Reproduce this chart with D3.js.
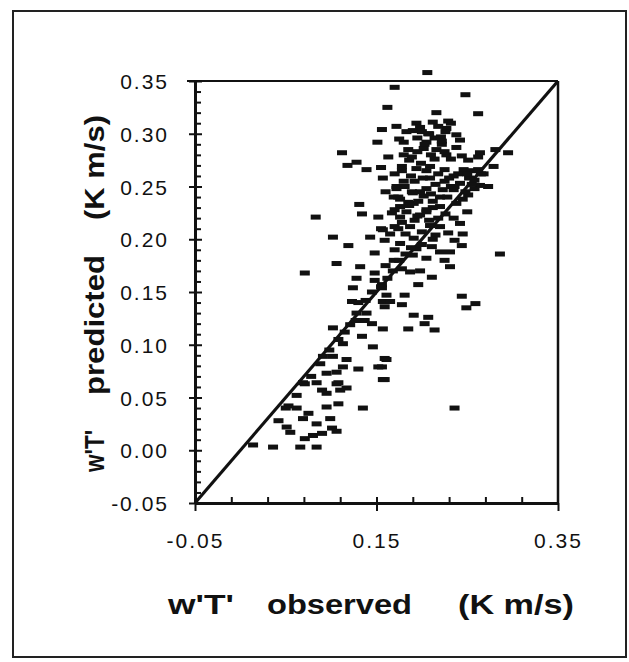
<!DOCTYPE html>
<html>
<head>
<meta charset="UTF-8">
<title>w'T' predicted vs observed</title>
<style>
html, body { margin:0; padding:0; background:#fff; }
text { font-family: "Liberation Sans", Arial, sans-serif; fill:#111; }
.tick-label { font-size:21px; letter-spacing:2px; }
.title { font-size:27px; font-weight:bold; }
</style>
<script src="https://cdnjs.cloudflare.com/ajax/libs/d3/7.8.5/d3.min.js"></script>
</head>
<body>
<script>
// observed / predicted pairs (K m/s)
const observed = [
 0.206,0.170,0.248,0.162,0.216,0.262,0.156,0.172,0.151,0.112,0.118,0.128,0.139,0.155,0.157,
 0.194,0.212,0.229,0.200,0.214,0.227,0.238,0.242,0.180,0.185,0.202,0.216,0.238,0.264,0.281,
 0.295,0.189,0.227,0.251,0.262,0.178,0.194,0.209,0.225,0.246,0.279,0.180,0.209,0.225,0.242,
 0.264,0.172,0.189,0.205,0.235,0.251,0.169,0.202,0.220,0.176,0.191,0.220,0.238,0.176,0.198,
 0.218,0.242,0.170,0.187,0.209,0.131,0.134,0.152,0.083,0.155,
 0.102,0.143,0.157,0.119,0.159,0.148,0.071,0.106,0.132,0.148,0.128,0.124,0.148,0.156,0.123,
 0.157,0.128,0.139,0.137,0.145,0.121,0.102,0.134,0.113,0.146,0.091,0.102,0.117,0.159,0.113,
 0.130,0.152,0.095,0.106,0.071,0.084,0.106,0.117,0.157,
 0.174,0.229,0.236,0.176,0.191,0.244,0.211,0.220,0.231,0.194,0.286,0.169,0.231,0.187,0.211,
 0.196,0.156,0.161,0.181,0.244,0.259,0.249,0.165,0.178,0.159,0.191,0.207,0.203,0.214,0.185,
 0.157,0.161,0.156,0.159,
 0.069,0.108,0.090,0.110,0.095,0.053,0.062,0.095,0.108,0.135,0.075,0.069,0.042,0.051,0.084,
 0.099,0.101,0.055,0.090,0.106,0.071,0.080,0.014,0.036,0.066,0.084,0.236,
 0.183,0.195,0.208,0.221,0.186,0.199,0.214,0.232,0.244,0.170,0.188,0.201,0.218,0.235,0.252,
 0.176,0.196,0.212,0.228,0.245,0.258,0.183,0.205,0.226,0.250,0.165,0.182,0.200,0.215,0.170,
 0.190,0.205,0.225,0.160,0.178,0.198,
 0.155,0.162,0.168,0.175,0.182,0.188,0.145,0.138,0.130,0.127,0.115,0.108,0.098,0.088,0.078,
 0.062,0.050,
 0.175,0.190,0.205,0.222,0.232,0.180,0.195,0.210,0.225,0.178,0.192,0.205,0.215,0.232,0.185,
 0.198,0.210,0.223,0.192,0.208,0.220,0.235,0.200,0.212,0.245,0.167,0.172,0.160,0.163,0.255,
 0.268,0.273,0.255,0.265,0.248,
 0.198,0.207,0.218,0.226,0.203,0.222,0.170,0.178,0.186,0.195,0.212,0.174,0.190,0.205,0.181,
 0.230,0.240,0.258,0.236,0.250,0.262
];
const predicted = [
 0.358,0.344,0.337,0.325,0.320,0.319,0.304,0.307,0.292,0.282,0.270,0.273,0.266,0.268,0.258,
 0.310,0.311,0.312,0.302,0.296,0.305,0.299,0.294,0.292,0.285,0.286,0.285,0.287,0.282,0.285,
 0.282,0.278,0.280,0.275,0.278,0.269,0.267,0.269,0.266,0.266,0.269,0.255,0.258,0.255,0.253,
 0.251,0.248,0.245,0.248,0.247,0.242,0.240,0.241,0.240,0.231,0.234,0.231,0.234,0.221,0.223,
 0.220,0.215,0.212,0.212,0.213,0.233,0.224,0.221,0.221,0.210,
 0.202,0.202,0.209,0.194,0.199,0.187,0.168,0.177,0.174,0.168,0.163,0.154,0.161,0.154,0.141,
 0.141,0.130,0.130,0.123,0.120,0.119,0.116,0.108,0.101,0.098,0.089,0.089,0.086,0.087,0.079,
 0.077,0.079,0.073,0.074,0.063,0.064,0.063,0.059,0.067,
 0.210,0.206,0.199,0.196,0.201,0.194,0.193,0.188,0.188,0.191,0.186,0.180,0.174,0.169,0.164,
 0.157,0.157,0.147,0.147,0.146,0.139,0.135,0.141,0.138,0.136,0.128,0.126,0.120,0.114,0.115,
 0.115,0.086,0.079,0.067,
 0.064,0.064,0.057,0.057,0.054,0.042,0.040,0.041,0.044,0.040,0.035,0.030,0.028,0.022,0.025,
 0.030,0.021,0.017,0.016,0.018,0.011,0.014,0.005,0.003,0.003,0.003,0.040,
 0.302,0.296,0.300,0.297,0.275,0.272,0.276,0.276,0.279,0.262,0.260,0.258,0.262,0.260,0.258,
 0.238,0.236,0.236,0.240,0.238,0.248,0.226,0.226,0.224,0.226,0.205,0.205,0.207,0.204,0.190,
 0.185,0.182,0.180,0.175,0.172,0.170,
 0.155,0.163,0.170,0.180,0.186,0.192,0.150,0.142,0.140,0.123,0.112,0.105,0.095,0.082,0.070,
 0.052,0.040,
 0.295,0.303,0.292,0.290,0.310,0.280,0.283,0.280,0.283,0.265,0.255,0.265,0.252,0.250,0.235,
 0.245,0.243,0.247,0.218,0.218,0.212,0.220,0.195,0.200,0.205,0.225,0.250,0.245,0.278,0.265,
 0.262,0.250,0.252,0.262,0.245,
 0.306,0.300,0.307,0.302,0.290,0.293,0.228,0.216,0.232,0.222,0.230,0.240,0.244,0.228,0.250,
 0.258,0.262,0.256,0.250,0.262,0.266
];
const yMajor = [-0.05, 0.00, 0.05, 0.10, 0.15, 0.20, 0.25, 0.30, 0.35];
const yMinor = d3.range(-4, 35).map(i => i / 100).filter(v => Math.round(v * 100) % 5 !== 0);
const xMajor = [-0.05, 0.15, 0.35];
const xMinor = [-0.01, 0.03, 0.07, 0.11, 0.19, 0.23, 0.27, 0.31];

const W = 629, H = 662;
const svg = d3.select('body').append('svg').attr('width', W).attr('height', H);

// outer frame
svg.append('rect').attr('x', 13).attr('y', 11).attr('width', 613).attr('height', 646)
	.attr('fill', 'none').attr('stroke', '#222').attr('stroke-width', 2);

const x = d3.scaleLinear().domain([-0.05, 0.35]).range([195, 558]);
const y = d3.scaleLinear().domain([-0.05, 0.35]).range([503, 81]);

// box top/right
svg.append('line').attr('x1', x(-0.05) - 8).attr('x2', x(0.35)).attr('y1', y(0.35)).attr('y2', y(0.35))
	.attr('stroke', '#111').attr('stroke-width', 2);
svg.append('line').attr('x1', x(0.35)).attr('x2', x(0.35)).attr('y1', y(0.35)).attr('y2', y(-0.05))
	.attr('stroke', '#111').attr('stroke-width', 2.5);

const fmt = v => v.toFixed(2);
const styleAxis = g => {
	g.select('.domain').attr('stroke', '#111').attr('stroke-width', 3);
	g.selectAll('.tick line').attr('stroke', '#111').attr('stroke-width', 2);
};

// y axis: inward minor ticks, crossing major ticks
svg.append('g').attr('transform', `translate(${x(-0.05)},0)`)
	.call(d3.axisLeft(y).tickValues(yMinor).tickSize(-6).tickFormat('').tickSizeOuter(0))
	.call(styleAxis);
svg.append('g').attr('transform', `translate(${x(-0.05)},0)`)
	.call(d3.axisLeft(y).tickValues(yMajor).tickSize(-7).tickFormat('').tickSizeOuter(0))
	.call(styleAxis);
svg.append('g').attr('transform', `translate(${x(-0.05)},0)`)
	.call(d3.axisLeft(y).tickValues(yMajor).tickSize(6).tickPadding(20).tickFormat(fmt).tickSizeOuter(0))
	.call(styleAxis)
	.call(g => g.selectAll('text').attr('class', 'tick-label').attr('font-family', null).attr('font-size', null).attr('dy', '0.36em'));

// x axis
svg.append('g').attr('transform', `translate(0,${y(-0.05)})`)
	.call(d3.axisBottom(x).tickValues(xMinor.concat([0.15])).tickSize(-6).tickFormat('').tickSizeOuter(0))
	.call(styleAxis);
svg.append('g').attr('transform', `translate(0,${y(-0.05)})`)
	.call(d3.axisBottom(x).tickValues(xMajor).tickSize(8).tickPadding(22).tickFormat(fmt).tickSizeOuter(0))
	.call(styleAxis)
	.call(g => g.selectAll('text').attr('class', 'tick-label').attr('font-family', null).attr('font-size', null));

// 1:1 line
svg.append('line').attr('x1', x(-0.05)).attr('y1', y(-0.05)).attr('x2', x(0.35)).attr('y2', y(0.35))
	.attr('stroke', '#111').attr('stroke-width', 3.2);

// points as short dashes
svg.append('g').selectAll('rect').data(d3.zip(observed, predicted)).join('rect')
	.attr('x', d => x(d[0]) - 5).attr('y', d => y(d[1]) - 2.5)
	.attr('width', 10).attr('height', 5).attr('fill', '#111');

// axis titles
const xt = [["w'T'", 168, 66], ['observed', 267, 145], ['(K m/s)', 458, 116]];
svg.append('g').selectAll('text').data(xt).join('text').attr('class', 'title')
	.attr('x', d => d[1]).attr('y', 614).attr('textLength', d => d[2])
	.attr('lengthAdjust', 'spacingAndGlyphs').text(d => d[0]);

const yt = [["w'T'", 472, 42], ['predicted', 395, 140], ['(K m/s)', 220, 105]];
svg.append('g').attr('transform', 'translate(104,0) rotate(-90)')
	.selectAll('text').data(yt).join('text').attr('class', 'title')
	.attr('x', d => -d[1]).attr('y', 0).attr('textLength', d => d[2])
	.attr('lengthAdjust', 'spacingAndGlyphs').text(d => d[0]);
</script>
</body>
</html>
